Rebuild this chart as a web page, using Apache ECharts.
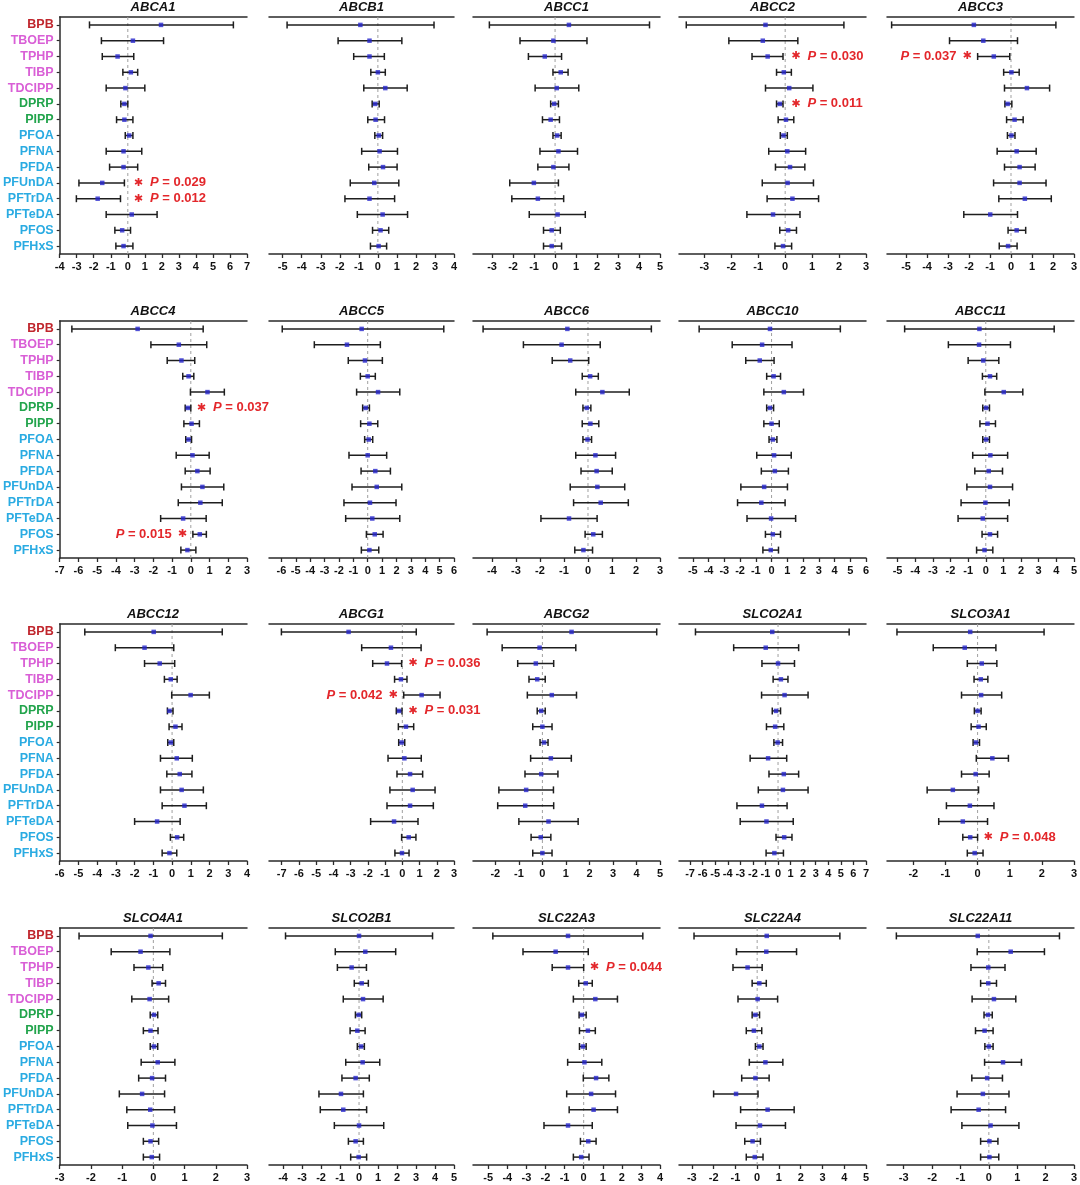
<!DOCTYPE html>
<html><head><meta charset="utf-8">
<script src="https://cdn.jsdelivr.net/npm/echarts@6/dist/echarts.min.js"></script>
<style>html,body{margin:0;padding:0;background:#fff}#c{width:1080px;height:1185px}</style>
</head><body><div id="c"></div>
<script>
// ---------------- DATA ----------------
const categories = ['BPB','TBOEP','TPHP','TIBP','TDCIPP','DPRP','PIPP','PFOA','PFNA','PFDA','PFUnDA','PFTrDA','PFTeDA','PFOS','PFHxS'];
const categoryGroup = ['BFR','OPE','OPE','OPE','OPE','MET','MET','PFAS','PFAS','PFAS','PFAS','PFAS','PFAS','PFAS','PFAS'];
const genes = ['ABCA1','ABCB1','ABCC1','ABCC2','ABCC3','ABCC4','ABCC5','ABCC6','ABCC10','ABCC11','ABCC12','ABCG1','ABCG2','SLCO2A1','SLCO3A1','SLCO4A1','SLCO2B1','SLC22A3','SLC22A4','SLC22A11'];

// each row: [estimate, lower CI, upper CI], in category order
const ABCA1 = [[1.95,-2.25,6.2],[0.3,-1.55,2.1],[-0.6,-1.5,0.35],[0.18,-0.29,0.58],[-0.14,-1.27,1.0],[-0.2,-0.41,0.0],[-0.2,-0.66,0.3],[0.08,-0.15,0.3],[-0.25,-1.27,0.82],[-0.25,-1.07,0.58],[-1.5,-2.87,-0.2],[-1.77,-3.02,-0.43],[0.23,-1.27,1.72],[-0.33,-0.76,0.16],[-0.25,-0.7,0.3]];
const ABCB1 = [[-0.92,-4.77,2.95],[-0.44,-2.09,1.26],[-0.44,-1.27,0.34],[0.0,-0.37,0.39],[0.39,-0.74,1.54],[-0.14,-0.3,0.07],[-0.12,-0.53,0.35],[0.05,-0.16,0.25],[0.09,-0.85,1.03],[0.27,-0.48,1.01],[-0.19,-1.45,1.1],[-0.44,-1.73,0.88],[0.25,-1.08,1.56],[0.14,-0.28,0.57],[0.04,-0.39,0.46]];
const ABCC1 = [[0.66,-3.13,4.5],[-0.08,-1.67,1.52],[-0.49,-1.27,0.31],[0.27,-0.1,0.62],[0.08,-0.95,1.13],[-0.04,-0.21,0.16],[-0.21,-0.6,0.21],[0.1,-0.1,0.29],[0.16,-0.72,1.07],[-0.08,-0.82,0.66],[-1.01,-2.16,0.16],[-0.82,-2.06,0.41],[0.12,-1.23,1.44],[-0.16,-0.55,0.25],[-0.16,-0.55,0.31]];
const ABCC2 = [[-0.73,-3.67,2.18],[-0.83,-2.09,0.47],[-0.65,-1.23,-0.08],[-0.05,-0.32,0.23],[0.15,-0.73,1.03],[-0.2,-0.32,-0.08],[0.03,-0.26,0.32],[-0.06,-0.18,0.08],[0.08,-0.61,0.76],[0.18,-0.36,0.73],[0.09,-0.85,1.05],[0.27,-0.67,1.24],[-0.45,-1.42,0.55],[0.11,-0.2,0.42],[-0.08,-0.38,0.24]];
const ABCC3 = [[-1.77,-5.69,2.14],[-1.32,-2.93,0.31],[-0.82,-1.59,-0.06],[0.02,-0.35,0.39],[0.76,-0.31,1.84],[-0.16,-0.29,0.04],[0.17,-0.21,0.58],[0.02,-0.17,0.19],[0.27,-0.66,1.2],[0.41,-0.31,1.15],[0.41,-0.83,1.67],[0.66,-0.58,1.92],[-0.99,-2.25,0.31],[0.27,-0.14,0.7],[-0.14,-0.56,0.29]];
const ABCC4 = [[-2.84,-6.35,0.66],[-0.64,-2.13,0.85],[-0.5,-1.26,0.21],[-0.12,-0.43,0.16],[0.89,-0.02,1.79],[-0.16,-0.3,0.0],[0.04,-0.37,0.46],[-0.12,-0.27,0.04],[0.09,-0.78,0.98],[0.35,-0.3,1.03],[0.62,-0.5,1.76],[0.51,-0.67,1.68],[-0.41,-1.61,0.82],[0.48,0.11,0.83],[-0.18,-0.53,0.27]];
const ABCC5 = [[-0.42,-5.94,5.29],[-1.44,-3.71,0.88],[-0.19,-1.35,1.02],[0.0,-0.51,0.53],[0.72,-0.77,2.23],[-0.14,-0.35,0.12],[0.12,-0.49,0.7],[0.07,-0.21,0.35],[0.0,-1.3,1.32],[0.53,-0.46,1.58],[0.63,-1.09,2.37],[0.16,-1.65,1.97],[0.32,-1.53,2.23],[0.49,-0.09,1.07],[0.12,-0.44,0.77]];
const ABCC6 = [[-0.86,-4.37,2.64],[-1.1,-2.69,0.51],[-0.74,-1.49,0.03],[0.09,-0.24,0.43],[0.6,-0.51,1.72],[-0.05,-0.21,0.12],[0.1,-0.24,0.45],[-0.02,-0.21,0.15],[0.31,-0.51,1.15],[0.36,-0.29,1.01],[0.39,-0.74,1.53],[0.53,-0.6,1.68],[-0.79,-1.96,0.38],[0.22,-0.12,0.6],[-0.19,-0.55,0.19]];
const ABCC10 = [[-0.1,-4.6,4.37],[-0.6,-2.5,1.3],[-0.75,-1.64,0.16],[0.13,-0.31,0.57],[0.78,-0.49,2.03],[-0.1,-0.31,0.13],[0.0,-0.49,0.49],[0.08,-0.16,0.34],[0.16,-0.94,1.25],[0.21,-0.65,1.07],[-0.47,-1.95,1.01],[-0.65,-2.16,0.86],[-0.03,-1.56,1.53],[0.08,-0.39,0.57],[-0.05,-0.55,0.44]];
const ABCC11 = [[-0.36,-4.6,3.88],[-0.38,-2.12,1.4],[-0.14,-1.0,0.74],[0.24,-0.19,0.62],[1.02,-0.05,2.1],[0.02,-0.17,0.21],[0.1,-0.33,0.55],[0.02,-0.17,0.21],[0.26,-0.74,1.24],[0.17,-0.62,0.95],[0.24,-1.07,1.52],[-0.02,-1.4,1.33],[-0.17,-1.57,1.24],[0.24,-0.21,0.67],[-0.07,-0.52,0.4]];
const ABCC12 = [[-0.98,-4.66,2.68],[-1.47,-3.03,0.09],[-0.66,-1.47,0.14],[-0.07,-0.41,0.27],[0.99,-0.02,1.99],[-0.14,-0.25,0.05],[0.18,-0.16,0.53],[-0.07,-0.23,0.09],[0.25,-0.62,1.08],[0.41,-0.28,1.06],[0.51,-0.62,1.67],[0.66,-0.53,1.83],[-0.8,-2.0,0.43],[0.27,-0.09,0.62],[-0.14,-0.53,0.25]];
const ABCG1 = [[-3.12,-7.02,0.81],[-0.66,-2.36,1.09],[-0.89,-1.72,-0.04],[-0.08,-0.45,0.27],[1.12,0.08,2.19],[-0.19,-0.35,-0.02],[0.21,-0.23,0.66],[-0.04,-0.21,0.14],[0.12,-0.83,1.1],[0.45,-0.31,1.18],[0.6,-0.72,1.9],[0.45,-0.89,1.8],[-0.48,-1.84,0.91],[0.37,-0.04,0.79],[-0.02,-0.43,0.39]];
const ABCG2 = [[1.24,-2.35,4.86],[-0.12,-1.71,1.42],[-0.28,-1.05,0.48],[-0.22,-0.57,0.12],[0.4,-0.64,1.45],[-0.05,-0.22,0.12],[0.0,-0.41,0.41],[0.07,-0.1,0.24],[0.36,-0.5,1.23],[-0.05,-0.74,0.66],[-0.69,-1.85,0.47],[-0.73,-1.9,0.48],[0.26,-1.0,1.52],[-0.07,-0.48,0.36],[0.0,-0.41,0.41]];
const SLCO2A1 = [[-0.46,-6.57,5.66],[-0.98,-3.53,1.64],[0.0,-1.28,1.31],[0.23,-0.39,0.79],[0.52,-1.31,2.39],[-0.16,-0.46,0.2],[-0.23,-0.92,0.46],[-0.03,-0.33,0.36],[-0.79,-2.22,0.69],[0.46,-0.72,1.64],[0.39,-1.57,2.39],[-1.28,-3.27,0.72],[-0.92,-3.01,1.21],[0.49,-0.16,1.11],[-0.29,-0.95,0.43]];
const SLCO3A1 = [[-0.23,-2.51,2.07],[-0.4,-1.38,0.57],[0.13,-0.32,0.6],[0.1,-0.11,0.32],[0.11,-0.5,0.75],[0.0,-0.1,0.11],[0.03,-0.2,0.27],[-0.05,-0.14,0.06],[0.46,-0.04,0.96],[-0.06,-0.5,0.36],[-0.77,-1.57,0.03],[-0.24,-0.97,0.51],[-0.46,-1.21,0.31],[-0.23,-0.46,0.0],[-0.09,-0.32,0.17]];
const SLCO4A1 = [[-0.09,-2.38,2.21],[-0.41,-1.35,0.53],[-0.16,-0.62,0.3],[0.17,-0.04,0.39],[-0.12,-0.69,0.49],[0.02,-0.1,0.14],[-0.09,-0.32,0.15],[0.02,-0.1,0.14],[0.14,-0.39,0.69],[-0.04,-0.47,0.39],[-0.36,-1.09,0.36],[-0.1,-0.85,0.68],[-0.03,-0.82,0.74],[-0.09,-0.32,0.17],[-0.05,-0.32,0.2]];
const SLCO2B1 = [[0.0,-3.87,3.87],[0.33,-1.25,1.93],[-0.39,-1.14,0.39],[0.14,-0.25,0.49],[0.21,-0.83,1.27],[-0.02,-0.19,0.14],[-0.09,-0.47,0.32],[0.11,-0.09,0.28],[0.19,-0.7,1.09],[-0.18,-0.9,0.54],[-0.95,-2.11,0.23],[-0.83,-2.04,0.4],[0.0,-1.3,1.3],[-0.18,-0.56,0.23],[-0.02,-0.44,0.4]];
const SLC22A3 = [[-0.82,-4.76,3.1],[-1.47,-3.18,0.24],[-0.82,-1.65,0.0],[0.11,-0.26,0.45],[0.61,-0.54,1.77],[-0.09,-0.24,0.13],[0.22,-0.22,0.61],[-0.04,-0.22,0.13],[0.04,-0.84,0.95],[0.65,-0.02,1.32],[0.39,-0.89,1.67],[0.52,-0.76,1.77],[-0.82,-2.08,0.45],[0.24,-0.17,0.65],[-0.13,-0.54,0.28]];
const SLC22A4 = [[0.44,-2.9,3.8],[0.42,-0.95,1.81],[-0.44,-1.11,0.23],[0.1,-0.23,0.42],[0.02,-0.88,0.94],[-0.08,-0.23,0.11],[-0.15,-0.5,0.21],[0.1,-0.08,0.27],[0.38,-0.36,1.18],[-0.08,-0.71,0.55],[-0.97,-2.0,0.04],[0.48,-0.76,1.7],[0.13,-0.97,1.3],[-0.21,-0.57,0.15],[-0.11,-0.5,0.27]];
const SLC22A11 = [[-0.39,-3.26,2.49],[0.77,-0.41,1.96],[-0.02,-0.63,0.57],[-0.02,-0.29,0.27],[0.18,-0.59,0.95],[-0.03,-0.17,0.12],[-0.15,-0.47,0.15],[0.0,-0.14,0.15],[0.5,-0.15,1.15],[-0.06,-0.6,0.48],[-0.21,-1.12,0.71],[-0.36,-1.33,0.59],[0.06,-0.95,1.06],[0.02,-0.29,0.32],[0.02,-0.29,0.35]];

// x-axis ranges (per gene, same order as genes)
const axisMin = [-4,-5.72,-3.91,-3.94,-5.91, -7,-6.86,-4.79,-5.88,-5.6, -6,-7.74,-2.95,-7.88,-2.82, -3,-4.74,-5.8,-3.59,-3.59];
const axisMax = [7,4,5,3,3, 3,6,3,6,5, 4,3,5,7,3, 3,5,4,5,3];

// significance annotations
const annGene = ['ABCA1','ABCA1','ABCC2','ABCC2','ABCC3','ABCC4','ABCC4','ABCG1','ABCG1','ABCG1','SLCO3A1','SLC22A3'];
const annCat  = ['PFUnDA','PFTrDA','TPHP','DPRP','TPHP','DPRP','PFOS','TPHP','TDCIPP','DPRP','PFOS','TPHP'];
const annP    = ['0.029','0.012','0.030','0.011','0.037','0.037','0.015','0.036','0.042','0.031','0.048','0.044'];
const annSide = ['right','right','right','right','left','right','left','right','left','right','right','right'];

// ---------------- BUILD ----------------
const geneData = {ABCA1,ABCB1,ABCC1,ABCC2,ABCC3,ABCC4,ABCC5,ABCC6,ABCC10,ABCC11,ABCC12,ABCG1,ABCG2,SLCO2A1,SLCO3A1,SLCO4A1,SLCO2B1,SLC22A3,SLC22A4,SLC22A11};
const groupColor = {BFR:'#c0262d', OPE:'#d95fd6', MET:'#22a44c', PFAS:'#2aabe2'};
const FONT = "'Liberation Sans', Arial, 'DejaVu Sans', sans-serif";
const colLeft = [59, 269, 473, 679, 887];
const colWidth = [188, 185, 187, 187, 187];
const rowTop = [17, 321, 624, 928];
const plotH = 237;
const RED = '#e3272b';

const grid = [], xAxis = [], yAxis = [], series = [], title = [];

genes.forEach((g, i) => {
  const r = Math.floor(i / 5), c = i % 5;
  grid.push({left: colLeft[c], top: rowTop[r], width: colWidth[c], height: plotH, containLabel: false});
  title.push({
    text: g, left: colLeft[c] + colWidth[c] / 2, top: rowTop[r] - 16, textAlign: 'center', padding: 0,
    textStyle: {fontFamily: FONT, fontSize: 13, fontWeight: 'bold', fontStyle: 'italic', color: '#111'}
  });
  const ticks = [];
  for (let v = Math.ceil(axisMin[i] - 1e-9); v <= axisMax[i] + 1e-9; v++) ticks.push(v);
  xAxis.push({
    type: 'value', gridIndex: i, position: 'bottom', min: axisMin[i], max: axisMax[i],
    axisLine: {show: true, onZero: false, lineStyle: {color: '#2a2a2a', width: 1.5}},
    axisTick: {show: true, customValues: ticks, length: 4, lineStyle: {color: '#2a2a2a', width: 1.3}},
    axisLabel: {show: true, customValues: ticks, margin: 7, fontFamily: FONT, fontSize: 11, fontWeight: 'bold', color: '#111'},
    splitLine: {show: false}
  });
  xAxis.push({
    type: 'value', gridIndex: i, position: 'top', min: axisMin[i], max: axisMax[i],
    axisLine: {show: true, onZero: false, lineStyle: {color: '#2a2a2a', width: 1.5}},
    axisTick: {show: false}, axisLabel: {show: false}, splitLine: {show: false}
  });
  const first = c === 0;
  yAxis.push({
    type: 'category', gridIndex: i, data: categories, inverse: true,
    axisLine: {show: first, onZero: false, lineStyle: {color: '#2a2a2a', width: 1.5}},
    axisTick: {show: first, interval: 0, alignWithLabel: true, length: 3, lineStyle: {color: '#2a2a2a', width: 1.2}},
    axisLabel: {show: first, interval: 0, margin: 6, fontFamily: FONT, fontSize: 12.5, fontWeight: 'bold',
      color: (v, idx) => groupColor[categoryGroup[categories.indexOf(v)]]},
    splitLine: {show: false}
  });

  const rows = geneData[g];
  // zero reference line
  series.push({
    type: 'custom', xAxisIndex: 2 * i, yAxisIndex: i, z: 1, silent: true,
    data: [[0, 0]], encode: {x: 0, y: 1},
    renderItem: (params, api) => {
      const cs = params.coordSys;
      const x = api.coord([0, 0])[0];
      return {type: 'line', shape: {x1: x, y1: cs.y, x2: x, y2: cs.y + cs.height},
        style: {stroke: '#a0a0a0', lineWidth: 1, lineDash: [3, 3]}};
    }
  });
  // error bars
  series.push({
    type: 'custom', xAxisIndex: 2 * i, yAxisIndex: i, z: 2, silent: true,
    data: rows.map((d, k) => [k, d[0], d[1], d[2]]), encode: {x: [2, 3], y: 0},
    renderItem: (params, api) => {
      const k = api.value(0);
      const p1 = api.coord([api.value(2), k]);
      const p2 = api.coord([api.value(3), k]);
      const cap = 3.5, st = {stroke: '#1e1e1e', lineWidth: 1.5};
      return {type: 'group', children: [
        {type: 'line', shape: {x1: p1[0], y1: p1[1], x2: p2[0], y2: p2[1]}, style: st},
        {type: 'line', shape: {x1: p1[0], y1: p1[1] - cap, x2: p1[0], y2: p1[1] + cap}, style: st},
        {type: 'line', shape: {x1: p2[0], y1: p2[1] - cap, x2: p2[0], y2: p2[1] + cap}, style: st}
      ]};
    }
  });
  // point estimates
  series.push({
    type: 'scatter', xAxisIndex: 2 * i, yAxisIndex: i, z: 3, silent: true,
    symbol: 'rect', symbolSize: 4.5, itemStyle: {color: '#2626cc'},
    data: rows.map((d, k) => [d[0], k])
  });
  // annotations
  const anns = [];
  annGene.forEach((ag, j) => {
    if (ag !== g) return;
    const k = categories.indexOf(annCat[j]);
    anns.push({value: [k, rows[k][1], rows[k][2]], p: annP[j], side: annSide[j]});
  });
  if (anns.length) {
    series.push({
      type: 'custom', xAxisIndex: 2 * i, yAxisIndex: i, z: 4, silent: true,
      data: anns.map(a => a.value), encode: {x: [1, 2], y: 0},
      renderItem: (params, api) => {
        const a = anns[params.dataIndex];
        const k = api.value(0);
        const richR = {
          s: {fontFamily: "'DejaVu Sans'", fontSize: 11, fill: RED, padding: [0, 7, 0, 0]},
          p: {fontFamily: FONT, fontSize: 13, fontWeight: 'bold', fontStyle: 'italic', fill: RED},
          n: {fontFamily: FONT, fontSize: 13, fontWeight: 'bold', fill: RED}
        };
        if (a.side === 'right') {
          const x = api.coord([Math.max(0, api.value(2)), k]);
          return {type: 'text', x: x[0] + 6, y: x[1],
            style: {text: '{s|\u2731}{p|P}{n| = ' + a.p + '}', rich: richR, align: 'left', verticalAlign: 'middle'}};
        } else {
          const x = api.coord([api.value(1), k]);
          const richL = Object.assign({}, richR, {s: Object.assign({}, richR.s, {padding: [0, 0, 0, 6]})});
          return {type: 'text', x: x[0] - 6, y: x[1],
            style: {text: '{p|P}{n| = ' + a.p + '}{s|\u2731}', rich: richL, align: 'right', verticalAlign: 'middle'}};
        }
      }
    });
  }
});

const chart = echarts.init(document.getElementById('c'), null, {renderer: 'canvas'});
chart.setOption({backgroundColor: '#fff', animation: false, title, grid, xAxis, yAxis, series});
</script>
</body></html>
